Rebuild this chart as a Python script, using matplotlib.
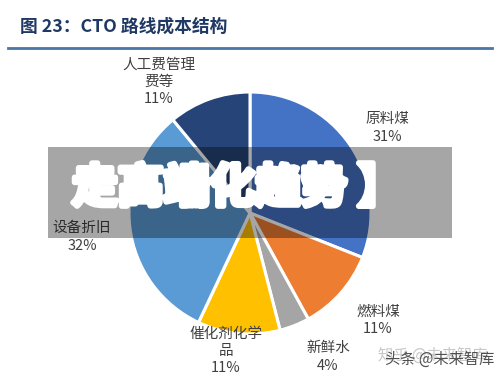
import matplotlib
matplotlib.use("Agg")
import matplotlib.pyplot as plt
from matplotlib.patches import Rectangle
import matplotlib.patheffects as pe

plt.rcParams['font.family'] = ['Noto Sans CJK SC', 'DejaVu Sans']

# cost structure of the CTO route, clockwise from 12 o'clock
labels = ['原料煤', '燃料煤', '新鲜水', '催化剂化学\n品', '设备折旧', '人工费管理\n费等']
shares = [31, 11, 4, 11, 32, 11]
colors = ['#4472C4', '#ED7D31', '#A5A5A5', '#FFC000', '#5B9BD5', '#264478']
label_pos = [(387, 128), (378, 320), (328, 357), (226, 351), (82, 237), (159, 82)]

W, H = 500, 385
fig = plt.figure(figsize=(W / 100, H / 100), dpi=100)

# pie in its own axes so the y axis can stay upright
pax = fig.add_axes([0, 0, 1, 1])
pax.pie(shares, colors=colors, startangle=90, counterclock=False,
        center=(250, H - 213), radius=121, frame=True,
        wedgeprops=dict(edgecolor='white', linewidth=2.2))
pax.set_xlim(0, W)
pax.set_ylim(0, H)
pax.axis('off')

# everything else in pixel coords, y down
ax = fig.add_axes([0, 0, 1, 1])
ax.set_xlim(0, W)
ax.set_ylim(H, 0)
ax.axis('off')

# title and rule
ax.text(20, 27, '图 23：CTO 路线成本结构', fontsize=12.8, fontweight='bold',
        color='#1F3864', va='center', ha='left')
ax.plot([8, 492], [48, 48], color='#4A76A8', lw=2)

# slice labels
for lab, s, (x, y) in zip(labels, shares, label_pos):
    ax.text(x, y, f'{lab}\n{s}%', fontsize=10.5, color='#404040', ha='center',
            va='center', linespacing=1.3, zorder=3)

# overlay banner
ax.add_patch(Rectangle((48, 147), 404, 91, color='black', alpha=0.35, lw=0, zorder=4))
ax.text(72, 189, '走高端化趋势 】', fontsize=33, fontweight='black', color='white',
        ha='left', va='center', zorder=5,
        path_effects=[pe.withStroke(linewidth=4, foreground='white')])

# watermark
ax.text(433, 355, '知乎 @未来智库', fontsize=11, color='#c8c8c8', ha='center', va='center', zorder=6)
ax.text(440, 359, '头条 @未来智库', fontsize=11, color='#505050', ha='center', va='center', zorder=6)

fig.savefig('out.png', dpi=100, facecolor='white')
